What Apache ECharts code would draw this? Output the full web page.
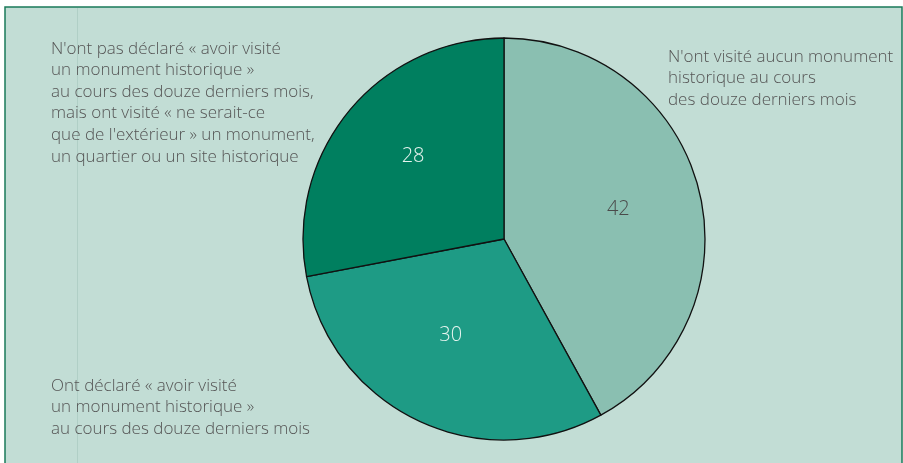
<!DOCTYPE html>
<html><head><meta charset="utf-8">
<script src="https://cdn.jsdelivr.net/npm/echarts@6/dist/echarts.min.js"></script>
<style>html,body{margin:0;padding:0;background:#fff}#c{width:903px;height:463px}</style>
</head><body><div id="c"></div>
<script>
const categories = [
  "N'ont visité aucun monument\nhistorique au cours\ndes douze derniers mois",
  "Ont déclaré « avoir visité\nun monument historique »\nau cours des douze derniers mois",
  "N'ont pas déclaré « avoir visité\nun monument historique »\nau cours des douze derniers mois,\nmais ont visité « ne serait-ce\nque de l'extérieur » un monument,\nun quartier ou un site historique"
];
const values = [42, 30, 28];
const sliceColors = ['#8abfb1', '#1e9b85', '#007f5f'];
const valueLabelColors = ['#4a4a4a', '#e6f4ef', '#e6f4ef'];
const labelPositions = [[668, 46], [51, 375], [51, 38]];
const valueLabelOffsets = [[0, 0], [-3, -10], [0, -7]];

const chart = echarts.init(document.getElementById('c'), null, {renderer: 'canvas'});
const fontFam = '"Open Sans", Lato, sans-serif';
const pieData = categories.map((c, i) => ({
  name: c, value: values[i],
  itemStyle: {color: sliceColors[i]}
}));
const labelData = categories.map((c, i) => ({
  name: c, value: values[i],
  itemStyle: {color: 'rgba(0,0,0,0)'},
  label: {color: valueLabelColors[i], offset: valueLabelOffsets[i]}
}));
chart.setOption({
  animation: false,
  backgroundColor: '#ffffff',
  graphic: [
    {type: 'rect', z: -10, shape: {x: 5, y: 7, width: 897, height: 460},
     style: {fill: '#c2ddd5', stroke: '#1a7a5a', lineWidth: 1.5}},
    {type: 'line', z: -9, shape: {x1: 77.5, y1: 8, x2: 77.5, y2: 463},
     style: {stroke: '#b0cfc6', lineWidth: 1}},
    ...categories.map((c, i) => ({
      type: 'text', left: labelPositions[i][0], top: labelPositions[i][1],
      style: {text: c, font: '300 17px ' + fontFam, fill: '#555555', lineHeight: 21.6}
    }))
  ],
  series: [
    {
      type: 'pie', center: [504, 239], radius: [0, 201], startAngle: 90, clockwise: true,
      silent: true, label: {show: false}, labelLine: {show: false},
      itemStyle: {borderColor: '#111', borderWidth: 1.3},
      data: pieData
    },
    {
      type: 'pie', center: [504, 239], radius: [0, 230], startAngle: 90, clockwise: true,
      silent: true, labelLine: {show: false},
      itemStyle: {borderWidth: 0},
      label: {show: true, position: 'inside', formatter: '{c}', fontSize: 20, fontWeight: 300, fontFamily: fontFam},
      data: labelData
    }
  ]
});
</script></body></html>
